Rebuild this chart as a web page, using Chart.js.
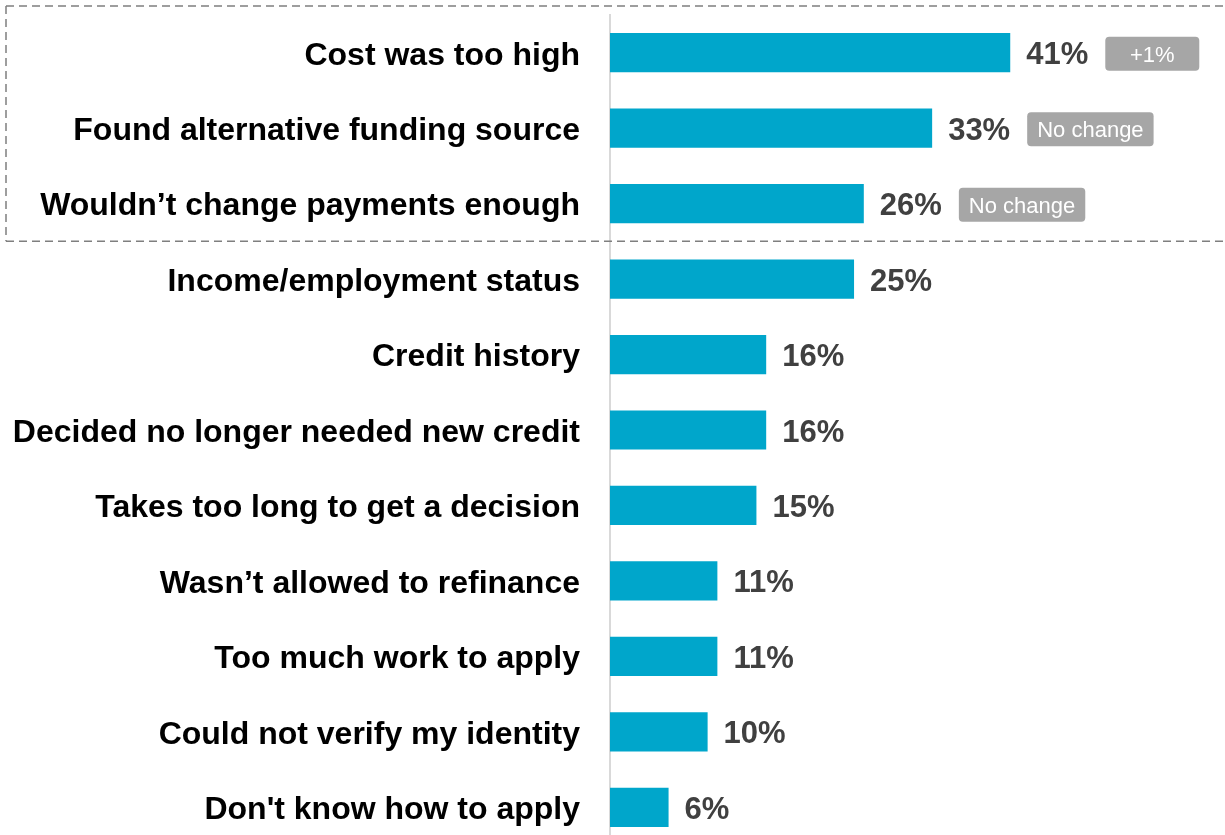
<!DOCTYPE html>
<html>
<head>
<meta charset="utf-8">
<script src="https://cdn.jsdelivr.net/npm/chart.js@4/dist/chart.umd.min.js"></script>
<style>
  html, body { margin: 0; padding: 0; background: #fff; overflow: hidden; }
  #wrap { width: 1225px; height: 845px; position: relative; }
</style>
</head>
<body>
<div id="wrap"><canvas id="myChart"></canvas></div>
<script>
const reasons = [
  'Cost was too high',
  'Found alternative funding source',
  'Wouldn\u2019t change payments enough',
  'Income/employment status',
  'Credit history',
  'Decided no longer needed new credit',
  'Takes too long to get a decision',
  'Wasn\u2019t allowed to refinance',
  'Too much work to apply',
  'Could not verify my identity',
  "Don't know how to apply"
];
const shares = [41, 33, 26, 25, 16, 16, 15, 11, 11, 10, 6];
const changes = ['+1%', 'No change', 'No change', null, null, null, null, null, null, null, null];
const highlighted = 3; // rows inside the dashed box

const labelFont = 'bold 31px "Liberation Sans", Arial, sans-serif';

const labelPlugin = {
  id: 'labels',
  afterDatasetsDraw(chart) {
    const ctx = chart.ctx;
    const meta = chart.getDatasetMeta(0);
    ctx.save();
    ctx.textBaseline = 'middle';
    meta.data.forEach((bar, i) => {
      const txt = shares[i] + '%';
      ctx.font = labelFont;
      ctx.fillStyle = '#404040';
      ctx.textAlign = 'left';
      const x = bar.x + 16;
      ctx.fillText(txt, x, bar.y + 3);
      if (changes[i]) {
        const w = ctx.measureText(txt).width;
        ctx.font = '22px "Liberation Sans", Arial, sans-serif';
        const tw = ctx.measureText(changes[i]).width;
        const bx = x + w + 17;
        const bw = Math.max(tw + 20, 94);
        const bh = 34;
        ctx.fillStyle = '#a6a6a6';
        ctx.beginPath();
        ctx.roundRect(bx, bar.y - bh / 2 + 1, bw, bh, 4);
        ctx.fill();
        ctx.fillStyle = '#ffffff';
        ctx.textAlign = 'center';
        ctx.fillText(changes[i], bx + bw / 2, bar.y + 3);
      }
    });
    ctx.restore();
  },
  afterDraw(chart) {
    const ctx = chart.ctx;
    const y = chart.scales.y;
    const bottom = (y.getPixelForValue(highlighted - 1) + y.getPixelForValue(highlighted)) / 2;
    ctx.save();
    ctx.strokeStyle = '#7f7f7f';
    ctx.lineWidth = 1.5;
    ctx.setLineDash([8, 5]);
    ctx.beginPath();
    ctx.moveTo(6, 6);
    ctx.lineTo(chart.width, 6);
    ctx.moveTo(6, 6);
    ctx.lineTo(6, bottom);
    ctx.moveTo(6, bottom);
    ctx.lineTo(chart.width, bottom);
    ctx.stroke();
    ctx.restore();
  }
};

new Chart(document.getElementById('myChart'), {
  type: 'bar',
  data: {
    labels: reasons,
    datasets: [{
      data: shares,
      backgroundColor: '#00a6cb',
      borderWidth: 0,
      barPercentage: 0.52,
      categoryPercentage: 1.0
    }]
  },
  options: {
    indexAxis: 'y',
    responsive: true,
    maintainAspectRatio: false,
    animation: false,
    layout: { padding: { top: 15, bottom: 0, left: 0, right: 0 } },
    plugins: { legend: { display: false }, tooltip: { enabled: false } },
    scales: {
      x: { display: false, min: 0, max: 63 },
      y: {
        grid: { display: false, drawTicks: false },
        border: { display: true, color: '#d9d9d9', width: 2 },
        ticks: {
          color: '#000000',
          padding: 30,
          labelOffset: 3,
          font: { family: '"Liberation Sans", Arial, sans-serif', size: 32, weight: 'bold' }
        },
        afterFit(scale) {
          scale.width = 610;
          scale.paddingTop = 0;
          scale.paddingBottom = 0;
        }
      }
    }
  },
  plugins: [labelPlugin]
});
</script>
</body>
</html>
